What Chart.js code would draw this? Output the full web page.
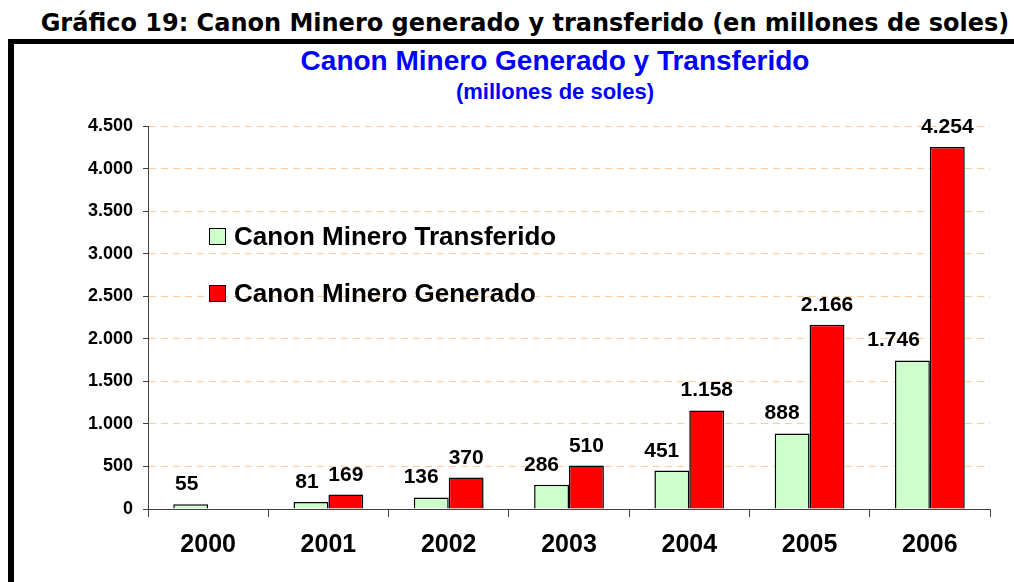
<!DOCTYPE html>
<html>
<head>
<meta charset="utf-8">
<script src="https://cdn.jsdelivr.net/npm/chart.js@4/dist/chart.umd.min.js"></script>
<style>
  html, body { margin: 0; padding: 0; background: #fff; }
  body { width: 1014px; height: 582px; position: relative; overflow: hidden; }
  #outer-title {
    position: absolute; left: 0; width: 1050px; top: 11px; text-align: center;
    font: bold 24px "DejaVu Sans", sans-serif; line-height: 1; color: #000;
    white-space: nowrap;
  }
  #frame {
    position: absolute; left: 8px; top: 39px; width: 1100px; height: 600px;
    border-top: 5px solid #000; border-left: 6px solid #000;
  }
  .ctitle {
    position: absolute; left: 0; width: 1110px; text-align: center; color: #0000ff;
    font-family: "Liberation Sans", Arial, sans-serif; font-weight: bold; white-space: nowrap;
  }
  #t1 { top: 45px; font-size: 28px; }
  #t2 { top: 79px; font-size: 22px; }
  canvas { position: absolute; left: 0; top: 0; }
</style>
</head>
<body>
<div id="outer-title">Gráfico 19: Canon Minero generado y transferido (en millones de soles)</div>
<div id="frame"></div>
<div class="ctitle" id="t1">Canon Minero Generado y Transferido</div>
<div class="ctitle" id="t2">(millones de soles)</div>
<canvas id="chart" width="1014" height="582"></canvas>
<script>
  const years = ['2000', '2001', '2002', '2003', '2004', '2005', '2006'];
  const transferido = [55, 81, 136, 286, 451, 888, 1746];
  const generado = [null, 169, 370, 510, 1158, 2166, 4254];
  const seriesNames = ['Canon Minero Transferido', 'Canon Minero Generado'];

  const FONT = '"Liberation Sans", Arial, sans-serif';

  // 4500 -> "4.500"
  function fmt(v) {
    return String(v).replace(/\B(?=(\d{3})+(?!\d))/g, '.');
  }

  // value labels above each bar
  const valueLabels = {
    id: 'valueLabels',
    afterDatasetsDraw(chart) {
      const ctx = chart.ctx;
      ctx.save();
      ctx.font = 'bold 21px ' + FONT;
      ctx.fillStyle = '#000';
      ctx.textAlign = 'center';
      ctx.textBaseline = 'alphabetic';
      chart.data.datasets.forEach((ds, di) => {
        const meta = chart.getDatasetMeta(di);
        meta.data.forEach((bar, i) => {
          const v = ds.data[i];
          if (v == null) return;
          const txt = fmt(v);
          let x = bar.x;
          if (di === 0) {
            const w = ctx.measureText(txt).width;
            if (w > bar.width) x = bar.x + bar.width / 2 - 10 - w / 2;
            else x = bar.x - 4;
          }
          ctx.fillText(txt, x, bar.y - 14);
        });
      });
      ctx.restore();
    }
  };

  // legend drawn inside the plot area
  const innerLegend = {
    id: 'innerLegend',
    afterDraw(chart) {
      const ctx = chart.ctx;
      const a = chart.chartArea;
      ctx.save();
      ctx.font = 'bold 26px ' + FONT;
      ctx.textBaseline = 'middle';
      chart.data.datasets.forEach((ds, di) => {
        const x = a.left + 61;
        const y = a.top + 102 + di * 57;
        ctx.fillStyle = ds.backgroundColor;
        ctx.fillRect(x, y, 17, 17);
        ctx.strokeStyle = '#000';
        ctx.lineWidth = 1;
        ctx.strokeRect(x + 0.5, y + 0.5, 16, 16);
        ctx.fillStyle = '#000';
        ctx.fillText(ds.label, x + 25, y + 10);
      });
      ctx.restore();
    }
  };

  new Chart(document.getElementById('chart'), {
    type: 'bar',
    data: {
      labels: years,
      datasets: [
        {
          label: seriesNames[0],
          data: transferido,
          backgroundColor: '#ccffcc',
          borderColor: '#000',
          borderWidth: 1.5,
          categoryPercentage: 0.58,
          barPercentage: 1
        },
        {
          label: seriesNames[1],
          data: generado,
          backgroundColor: '#ff0000',
          borderColor: '#000',
          borderWidth: 1.5,
          categoryPercentage: 0.58,
          barPercentage: 1
        }
      ]
    },
    options: {
      responsive: false,
      animation: false,
      layout: { padding: { top: 126, right: 24, left: 0, bottom: 0 } },
      plugins: {
        legend: { display: false },
        tooltip: { enabled: false }
      },
      scales: {
        x: {
          grid: { drawOnChartArea: false, tickLength: 8, tickColor: '#404040', offset: true },
          border: { color: '#404040', width: 1 },
          ticks: { color: '#000', font: { family: FONT, size: 25, weight: 'bold' }, padding: 13, maxRotation: 0 },
          afterFit(scale) { scale.height = 73; }
        },
        y: {
          min: 0,
          max: 4500,
          grid: {
            color: (c) => c.tick && c.tick.value === 0 ? 'rgba(0,0,0,0)' : '#ffcc99',
            tickColor: '#404040',
            tickLength: 5,
            tickBorderDash: []
          },
          border: { color: '#404040', width: 1, dash: [7, 5] },
          ticks: {
            stepSize: 500,
            color: '#000',
            padding: 10,
            font: { family: FONT, size: 18, weight: 'bold' },
            callback: (v) => fmt(v)
          },
          afterFit(scale) { scale.width = 148; }
        }
      }
    },
    plugins: [valueLabels, innerLegend]
  });
</script>
</body>
</html>
